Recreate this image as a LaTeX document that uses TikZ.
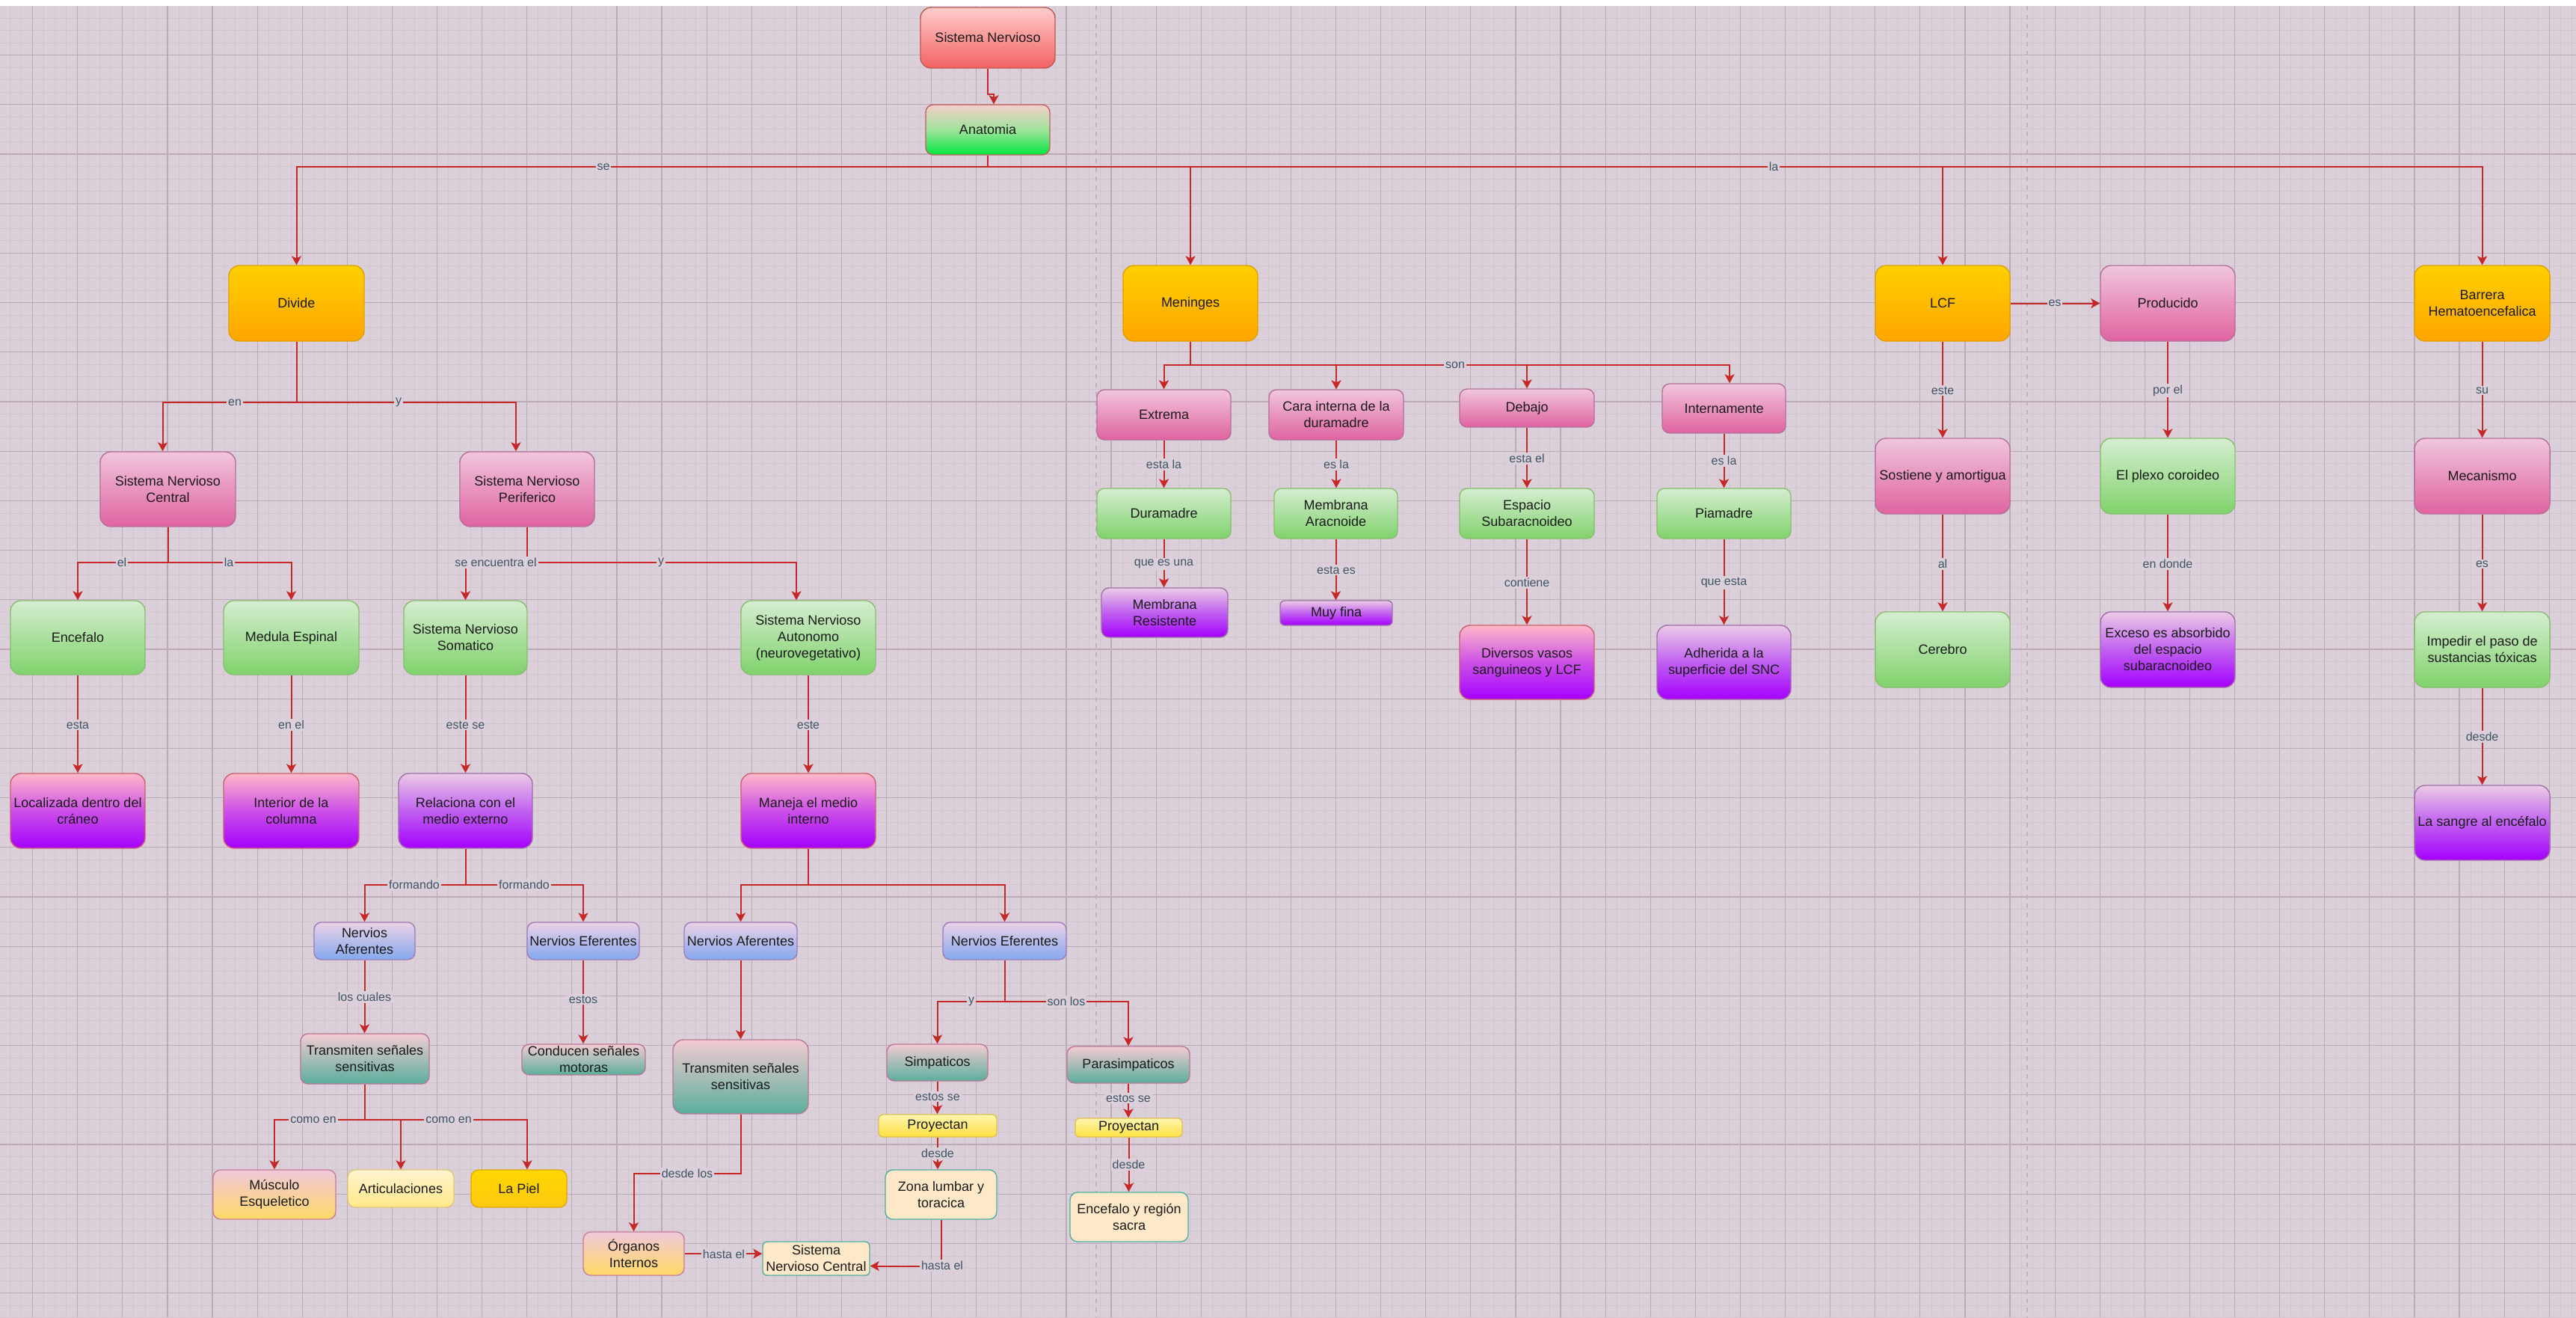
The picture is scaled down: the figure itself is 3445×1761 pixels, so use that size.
\documentclass[tikz,border=0pt]{standalone}
\usepackage{fontspec}
\setmainfont{Liberation Sans}
\usetikzlibrary{arrows.meta}
\definecolor{bg}{HTML}{DBD0D9}
\definecolor{gridminor}{HTML}{D2C5CF}
\definecolor{gridmajor}{HTML}{BDAAB9}
\definecolor{pagebrk}{HTML}{C2B2BF}
\definecolor{linecol}{HTML}{C62828}
\definecolor{lblcol}{HTML}{3F5566}
\definecolor{txt}{HTML}{1A1A1A}
\definecolor{snT}{HTML}{FFCCCC}\definecolor{snB}{HTML}{F26262}\definecolor{snD}{HTML}{C05A55}
\definecolor{anT}{HTML}{F5CFCB}\definecolor{anM}{HTML}{9FE39A}\definecolor{anB}{HTML}{00E640}\definecolor{anD}{HTML}{C0605A}
\definecolor{orT}{HTML}{FFD000}\definecolor{orB}{HTML}{FFA500}\definecolor{orD}{HTML}{E0A000}
\definecolor{pkT}{HTML}{F0C6DD}\definecolor{pkB}{HTML}{E063A0}\definecolor{pkD}{HTML}{B5709A}
\definecolor{grT}{HTML}{D5EDD0}\definecolor{grB}{HTML}{80D26C}\definecolor{grD}{HTML}{88BE70}
\definecolor{prT}{HTML}{FFB8C8}\definecolor{prM}{HTML}{CC50E8}\definecolor{prB}{HTML}{A500FF}\definecolor{prD}{HTML}{D06070}
\definecolor{plT}{HTML}{EBCBE6}\definecolor{plM}{HTML}{C060F0}\definecolor{plD}{HTML}{A070A8}
\definecolor{blT}{HTML}{EAD2E6}\definecolor{blB}{HTML}{85A8EE}\definecolor{blD}{HTML}{A07CB8}
\definecolor{tlT}{HTML}{F2CCD2}\definecolor{tlB}{HTML}{5BAE9C}\definecolor{tlD}{HTML}{B87898}
\definecolor{myT}{HTML}{F0C8DA}\definecolor{myB}{HTML}{FFD966}\definecolor{myD}{HTML}{C88098}
\definecolor{arT}{HTML}{FFF4D0}\definecolor{arB}{HTML}{FFE88A}\definecolor{arD}{HTML}{E0C870}
\definecolor{piT}{HTML}{FFD700}\definecolor{piB}{HTML}{FFC810}\definecolor{piD}{HTML}{E0A800}
\definecolor{pyT}{HTML}{FFF6B0}\definecolor{pyB}{HTML}{FFE040}\definecolor{pyD}{HTML}{E0C050}
\definecolor{crF}{HTML}{FFE8C8}\definecolor{crD}{HTML}{4FAF9F}
\newcommand\boxfont{\fontsize{9}{11}\selectfont}
\newcommand\lblfont{\fontsize{8}{9.5}\selectfont}
\begin{document}
\begin{tikzpicture}[x=0.5pt,y=-0.5pt,
  box/.style={draw, line width=0.7pt, rounded corners=5pt, align=center, font=\boxfont, text=txt, inner sep=1pt},
  big/.style={rounded corners=7pt},
  wh/.style 2 args={minimum width=#1*0.5pt, minimum height=#2*0.5pt},
  gSN/.style={top color=snT, bottom color=snB, draw=snD},
  gAna/.style={top color=anT, bottom color=anB, middle color=anM, draw=anD},
  gOr/.style={top color=orT, bottom color=orB, draw=orD},
  gPk/.style={top color=pkT, bottom color=pkB, draw=pkD},
  gGr/.style={top color=grT, bottom color=grB, draw=grD},
  gPuR/.style={top color=prT, bottom color=prB, middle color=prM, draw=prD},
  gPuL/.style={top color=plT, bottom color=prB, middle color=plM, draw=plD},
  gBl/.style={top color=blT, bottom color=blB, draw=blD},
  gTl/.style={top color=tlT, bottom color=tlB, draw=tlD},
  gMy/.style={top color=myT, bottom color=myB, draw=myD},
  gAr/.style={top color=arT, bottom color=arB, draw=arD},
  gPl/.style={top color=piT, bottom color=piB, draw=piD},
  gPy/.style={top color=pyT, bottom color=pyB, draw=pyD},
  gCr/.style={fill=crF, draw=crD},
  ln/.style={draw=linecol, line width=1pt},
  arr/.style={ln, -{Stealth[length=6pt,width=6.5pt,inset=1.5pt]}},
  lbl/.style={font=\lblfont, text=lblcol, fill=bg, inner sep=1pt}
]
\useasboundingbox (0,0) rectangle (3445,1761);
\fill[white] (0,0) rectangle (3445,8);
\fill[bg] (0,8) rectangle (3445,1761);
% grid
\foreach \i in {0,...,229} {\draw[gridminor, line width=0.35pt] ({-1.475+15.025*\i},8) -- ({-1.475+15.025*\i},1761);}
\foreach \j in {1,...,106} {\draw[gridminor, line width=0.35pt] (0,{7.3+16.55*\j}) -- (3445,{7.3+16.55*\j});}
\foreach \i in {0,...,56} {\draw[gridmajor, line width=0.6pt] ({43.6+60.1*\i},8) -- ({43.6+60.1*\i},1761);}
\foreach \j in {1,...,26} {\draw[gridmajor, line width=0.6pt] (0,{7.3+66.2*\j}) -- (3445,{7.3+66.2*\j});}
\draw[pagebrk, dashed, line width=0.6pt] (1466,8) -- (1466,1761);
\draw[pagebrk, dashed, line width=0.6pt] (2711,8) -- (2711,1761);

% ---------- nodes ----------
\node[box,big,gSN,wh={180}{81}] (sn) at (1321,50.5) {Sistema Nervioso};
\node[box,gAna,wh={166}{67}] (ana) at (1321,173.5) {Anatomia};
\node[box,big,gOr,wh={181}{101}] (divide) at (396.5,405.5) {Divide};
\node[box,big,gOr,wh={180}{101}] (men) at (1592,405.5) {Meninges};
\node[box,big,gOr,wh={180}{101}] (lcf) at (2598,405.5) {LCF};
\node[box,big,gPk,wh={180}{101}] (prod) at (2899,405.5) {Producido};
\node[box,big,gOr,wh={181}{101}] (bar) at (3319.5,405.5) {Barrera\\Hematoencefalica};

\node[box,gPk,wh={179}{67}] (ext) at (1556.5,554.5) {Extrema};
\node[box,gPk,wh={180}{67}] (cara) at (1787,554.5) {Cara interna de la\\duramadre};
\node[box,gPk,wh={180}{51}] (deb) at (2042,545.5) {Debajo};
\node[box,gPk,wh={165}{66}] (intn) at (2305.5,546) {Internamente};
\node[box,gGr,wh={179}{67}] (dura) at (1556.5,686.5) {Duramadre};
\node[box,gGr,wh={165}{67}] (arac) at (1786.5,686.5) {Membrana\\Aracnoide};
\node[box,gGr,wh={180}{67}] (esp) at (2042,686.5) {Espacio\\Subaracnoideo};
\node[box,gGr,wh={179}{67}] (pia) at (2305.5,686.5) {Piamadre};
\node[box,gPuL,wh={169}{66}] (memres) at (1557.5,819) {Membrana\\Resistente};
\node[box,gPuL,wh={150}{33},rounded corners=3pt] (muy) at (1787,819.5) {Muy fina};
\node[box,big,gPuR,wh={180}{99}] (divv) at (2042,885.5) {Diversos vasos\\sanguineos y LCF};
\node[box,big,gPuL,wh={179}{99}] (adh) at (2305.5,885.5) {Adherida a la\\superficie del SNC};

\node[box,big,gPk,wh={180}{101}] (sost) at (2598,636.5) {Sostiene y amortigua};
\node[box,big,gGr,wh={180}{101}] (cereb) at (2598,868.5) {Cerebro};
\node[box,big,gGr,wh={180}{101}] (plexo) at (2899,636.5) {El plexo coroideo};
\node[box,big,gPuL,wh={180}{101}] (exc) at (2899,868.5) {Exceso es absorbido\\del espacio\\subaracnoideo};
\node[box,big,gPk,wh={181}{101}] (mec) at (3319.5,636.5) {Mecanismo};
\node[box,big,gGr,wh={181}{101}] (imp) at (3319.5,868.5) {Impedir el paso de\\sustancias tóxicas};
\node[box,big,gPuL,wh={181}{100}] (sangre) at (3319.5,1100) {La sangre al encéfalo};

\node[box,big,gPk,wh={181}{100}] (snc) at (224.5,654) {Sistema Nervioso\\Central};
\node[box,big,gPk,wh={180}{100}] (snp) at (705,654) {Sistema Nervioso\\Periferico};
\node[box,big,gGr,wh={180}{99}] (enc) at (104,852.5) {Encefalo};
\node[box,big,gGr,wh={181}{99}] (med) at (389.5,852.5) {Medula Espinal};
\node[box,big,gGr,wh={165}{99}] (som) at (622.5,852.5) {Sistema Nervioso\\Somatico};
\node[box,big,gGr,wh={180}{99}] (aut) at (1081,852.5) {Sistema Nervioso\\Autonomo\\(neurovegetativo)};
\node[box,big,gPuR,wh={180}{100}] (loc) at (104,1084) {Localizada dentro del\\cráneo};
\node[box,big,gPuR,wh={181}{100}] (inter) at (389.5,1084) {Interior de la\\columna};
\node[box,big,gPuL,wh={179}{100}] (rel) at (622.5,1084) {Relaciona con el\\medio externo};
\node[box,big,gPuR,wh={180}{100}] (man) at (1081,1084) {Maneja el medio\\interno};

\node[box,gBl,wh={135}{50}] (naf1) at (487.5,1258) {Nervios\\Aferentes};
\node[box,gBl,wh={150}{50}] (nef1) at (780,1258) {Nervios Eferentes};
\node[box,gBl,wh={151}{50}] (naf2) at (990.5,1258) {Nervios Aferentes};
\node[box,gBl,wh={165}{50}] (nef2) at (1343.5,1258) {Nervios Eferentes};
\node[box,gTl,wh={172}{67}] (tr1) at (488,1415.5) {Transmiten señales\\sensitivas};
\node[box,gTl,wh={165}{41}] (cond) at (780.5,1416.5) {Conducen señales\\motoras};
\node[box,big,gTl,wh={181}{99}] (tr2) at (990.5,1439.5) {Transmiten señales\\sensitivas};
\node[box,gTl,wh={135}{49}] (simp) at (1253.5,1420.5) {Simpaticos};
\node[box,gTl,wh={164}{49}] (para) at (1509,1423.5) {Parasimpaticos};
\node[box,gPy,wh={158}{30},rounded corners=3pt] (proy1) at (1254,1505) {Proyectan};
\node[box,gPy,wh={143}{25},rounded corners=3pt] (proy2) at (1509.5,1507.5) {Proyectan};
\node[box,gCr,wh={149}{66}] (zona) at (1258.5,1597) {Zona lumbar y\\toracica};
\node[box,gCr,wh={158}{66}] (encs) at (1510,1627) {Encefalo y región\\sacra};
\node[box,gMy,wh={164}{66}] (musc) at (367,1597) {Músculo\\Esqueletico};
\node[box,gAr,wh={142}{50}] (art) at (536,1589) {Articulaciones};
\node[box,gPl,wh={128}{50}] (piel) at (694,1589) {La Piel};
\node[box,gMy,wh={135}{58}] (org) at (847.5,1676) {Órganos\\Internos};
\node[box,gCr,wh={143}{45},rounded corners=3pt] (snc2) at (1091.5,1682.5) {Sistema\\Nervioso Central};

% ---------- connectors ----------
\coordinate (jog) at (1321,126);
\draw[arr] (sn.south) -- (jog) -| ([xshift=4pt]ana.north);

\coordinate (hA) at (1321,223);
\draw[ln] (ana.south) -- (hA);
\draw[arr] (hA) -| (divide.north);
\draw[arr] (hA) -| (men.north);
\draw[arr] (hA) -| (lcf.north);
\draw[arr] (hA) -| (bar.north);
\node[lbl] (l-se) at (807,223) {se};
\node[lbl] (l-la) at (2372,223) {la};

\coordinate (hD) at (396.5,538);
\draw[ln] (divide.south) -- (hD);
\draw[arr] (hD) -| ([xshift=-3.5pt]snc.north);
\draw[arr] (hD) -| ([xshift=-7.5pt]snp.north);
\node[lbl] (l-en) at (314,538) {en};
\node[lbl] (l-y1) at (533,538) {y};

\coordinate (hC) at (224.5,752);
\draw[ln] (snc.south) -- (hC);
\draw[arr] (hC) -| (enc.north);
\draw[arr] (hC) -| (med.north);
\node[lbl] (l-el) at (163,752) {el};
\node[lbl] (l-la2) at (306,752) {la};

\coordinate (hP) at (705,752);
\draw[ln] (snp.south) -- (hP);
\draw[arr] (hP) -| (som.north);
\draw[arr] (hP) -| ([xshift=-8pt]aut.north);
\node[lbl] (l-se2) at (663,752) {se encuentra el};
\node[lbl] (l-y2) at (884,752) {y};

\draw[arr] (enc.south) -- (loc.north);
\node[lbl] (l-esta) at (104,969) {esta};
\draw[arr] (med.south) -- (inter.north);
\node[lbl] (l-enel) at (389.5,969) {en el};
\draw[arr] (som.south) -- (som.south |- rel.north);
\node[lbl] (l-estese) at (622.5,969) {este se};
\draw[arr] (aut.south) -- (man.north);
\node[lbl] (l-este) at (1081,969) {este};

\coordinate (hR) at (622.5,1183);
\draw[ln] (rel.south) -- (hR);
\draw[arr] (hR) -| (naf1.north);
\draw[arr] (hR) -| (nef1.north);
\node[lbl] (l-f1) at (554,1183) {formando};
\node[lbl] (l-f2) at (701,1183) {formando};

\coordinate (hM) at (1081,1183);
\draw[ln] (man.south) -- (hM);
\draw[arr] (hM) -| (naf2.north);
\draw[arr] (hM) -| (nef2.north);

\draw[arr] (naf1.south) -- (naf1.south |- tr1.north);
\node[lbl] (l-lc) at (487.5,1333) {los cuales};
\draw[arr] (nef1.south) -- (nef1.south |- cond.north);
\node[lbl] (l-estos) at (780,1336) {estos};
\draw[arr] (naf2.south) -- (tr2.north);

\coordinate (hT) at (488,1497);
\draw[ln] (tr1.south) -- (hT);
\draw[arr] (hT) -| (musc.north);
\draw[arr] (hT) -| (art.north);
\draw[arr] (hT) -| ([xshift=5.5pt]piel.north);
\node[lbl] (l-ce1) at (419,1497) {como en};
\node[lbl] (l-ce2) at (600,1497) {como en};

\coordinate (bT) at (848,1569);
\draw[arr] (tr2.south) |- (bT) -| (org.north);
\node[lbl] (l-dl) at (919,1569) {desde los};
\draw[arr] (org.east) -- (org.east -| snc2.west);
\node[lbl] (l-he1) at (968,1677) {hasta el};
\draw[arr] (zona.south) |- ([yshift=-5pt]snc2.east);
\node[lbl] (l-he2) at (1260,1692) {hasta el};

\coordinate (hE) at (1343.5,1339);
\draw[ln] (nef2.south) -- (hE);
\draw[arr] (hE) -| (simp.north);
\draw[arr] (hE) -| (para.north);
\node[lbl] (l-y3) at (1299,1339) {y};
\node[lbl] (l-sl) at (1426,1339) {son los};
\draw[arr] (simp.south) -- (simp.south |- proy1.north);
\node[lbl] (l-es1) at (1254,1466) {estos se};
\draw[arr] (para.south) -- (para.south |- proy2.north);
\node[lbl] (l-es2) at (1509,1468) {estos se};
\draw[arr] (proy1.south) -- (proy1.south |- zona.north);
\node[lbl] (l-d1) at (1254,1542) {desde};
\draw[arr] (proy2.south) -- (proy2.south |- encs.north);
\node[lbl] (l-d2) at (1509.5,1557) {desde};

\coordinate (hN) at (1592,488);
\draw[ln] (men.south) -- (hN);
\draw[arr] (hN) -| (ext.north);
\draw[arr] (hN) -| (cara.north);
\draw[arr] (hN) -| (deb.north);
\draw[arr] (hN) -| ([xshift=3.75pt]intn.north);
\node[lbl] (l-son) at (1946,488) {son};
\draw[arr] (ext.south) -- (dura.north);
\node[lbl] (l-estala) at (1556.5,621) {esta la};
\draw[arr] (cara.south) -- (cara.south |- arac.north);
\node[lbl] (l-esla) at (1787,621) {es la};
\draw[arr] (deb.south) -- (esp.north);
\node[lbl] (l-estael) at (2042,613) {esta el};
\draw[arr] (intn.south) -- (intn.south |- pia.north);
\node[lbl] (l-esla2) at (2305.5,616) {es la};
\draw[arr] (dura.south) -- (dura.south |- memres.north);
\node[lbl] (l-qeu) at (1556.5,754) {que es una};
\draw[arr] (arac.south) -- (arac.south |- muy.north);
\node[lbl] (l-estaes) at (1787,762) {esta es};
\draw[arr] (esp.south) -- (divv.north);
\node[lbl] (l-cont) at (2042,779) {contiene};
\draw[arr] (pia.south) -- (adh.north);
\node[lbl] (l-qe) at (2305.5,779) {que esta};

\draw[arr] (lcf.east) -- (prod.west);
\node[lbl] (l-es) at (2748,405.5) {es};
\draw[arr] (lcf.south) -- (sost.north);
\node[lbl] (l-este2) at (2598,522) {este};
\draw[arr] (prod.south) -- (plexo.north);
\node[lbl] (l-porel) at (2899,522) {por el};
\draw[arr] (bar.south) -- (mec.north);
\node[lbl] (l-su) at (3319.5,522) {su};
\draw[arr] (sost.south) -- (cereb.north);
\node[lbl] (l-al) at (2598,754) {al};
\draw[arr] (plexo.south) -- (exc.north);
\node[lbl] (l-ed) at (2899,754) {en donde};
\draw[arr] (mec.south) -- (imp.north);
\node[lbl] (l-es3) at (3319.5,754) {es};
\draw[arr] (imp.south) -- (sangre.north);
\node[lbl] (l-desde) at (3319.5,985) {desde};
\end{tikzpicture}
\end{document}
